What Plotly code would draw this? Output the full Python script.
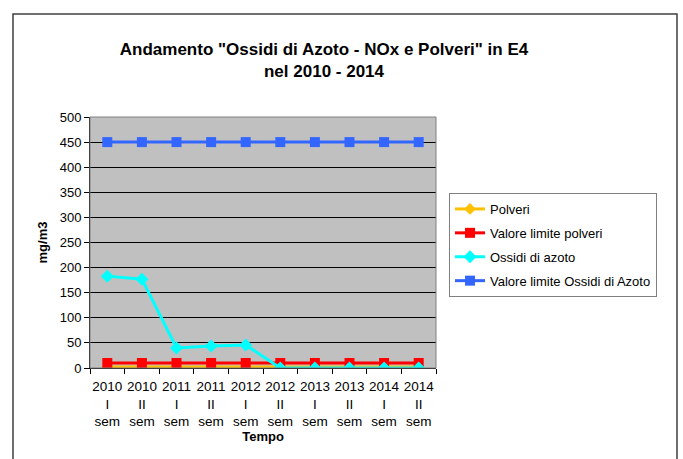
import plotly.graph_objects as go

# Periods (semesters) and measured series, mg/m3
periodi = ["2010<br>I<br>sem", "2010<br>II<br>sem", "2011<br>I<br>sem", "2011<br>II<br>sem",
           "2012<br>I<br>sem", "2012<br>II<br>sem", "2013<br>I<br>sem", "2013<br>II<br>sem",
           "2014<br>I<br>sem", "2014<br>II<br>sem"]
polveri = [2, 2, 2, 2, 2, 2, 2, 2, 2, 2]
limite_polveri = [10, 10, 10, 10, 10, 10, 10, 10, 10, 10]
ossidi_azoto = [183, 177, 40, 44, 46, 0, 0, 0, 0, 0]
limite_ossidi = [450, 450, 450, 450, 450, 450, 450, 450, 450, 450]

FONT = "Liberation Sans, Arial, sans-serif"

fig = go.Figure()
series = [
    ("Polveri", polveri, "#FFC000", "diamond", 9),
    ("Valore limite polveri", limite_polveri, "#FF0000", "square", 10),
    ("Ossidi di azoto", ossidi_azoto, "#00FFFF", "diamond", 10),
    ("Valore limite Ossidi di Azoto", limite_ossidi, "#3366FF", "square", 10),
]
for i, (name, vals, col, sym, size) in enumerate(series):
    fig.add_trace(go.Scatter(
        x=periodi, y=vals, name=name, mode="lines+markers",
        line=dict(color=col, width=3),
        marker=dict(color=col, symbol=sym, size=size),
        legendgroup=f"g{i}",
    ))

L, R, T, B = 90, 683 - 436, 117, 459 - 368
pw, ph = 683 - L - R, 459 - T - B

fig.update_layout(
    width=683, height=459,
    margin=dict(l=L, r=R, t=T, b=B),
    paper_bgcolor="white", plot_bgcolor="#C0C0C0",
    font=dict(family=FONT, size=13, color="black"),
    title=dict(
        text="<b>Andamento \"Ossidi di Azoto - NOx e Polveri\" in E4<br>nel 2010 - 2014</b>",
        x=324 / 683, xanchor="center", y=1 - 55 / 459, yanchor="middle",
        font=dict(size=17, family=FONT),
    ),
    showlegend=True,
    legend=dict(
        x=(449 - L) / pw, xanchor="left", y=(368 - 193) / ph, yanchor="top",
        bordercolor="#808080", borderwidth=1, bgcolor="white",
        font=dict(size=13, family=FONT), traceorder="grouped", tracegroupgap=4,
    ),
    xaxis=dict(
        type="category", tickson="boundaries", ticks="outside", ticklen=5,
        tickcolor="black", showline=True, linecolor="black", linewidth=1,
        showgrid=False, tickfont=dict(size=13.5), tickangle=0, ticklabelstandoff=6,
        title=dict(text="<b>Tempo</b>", font=dict(size=13), standoff=1),
        range=[-0.5, 9.5],
    ),
    yaxis=dict(
        range=[0, 500], dtick=50, ticks="outside", ticklen=5, tickcolor="black",
        showline=True, linecolor="black", linewidth=1,
        showgrid=True, gridcolor="black", gridwidth=1, zeroline=False,
        tickfont=dict(size=13),
        title=dict(text="<b>mg/m3</b>", font=dict(size=13), standoff=9),
    ),
    shapes=[
        # plot frame
        dict(type="rect", xref="paper", yref="paper", x0=0, x1=1, y0=0, y1=1,
             line=dict(color="#808080", width=1), layer="above"),
        # outer chart frame
        dict(type="rect", xref="paper", yref="paper",
             x0=(13 - L) / pw, x1=(677 - L) / pw,
             y0=(368 - 475) / ph, y1=(368 - 14) / ph,
             line=dict(color="#404040", width=1.5)),
    ],
)

fig.write_html("out.html")
